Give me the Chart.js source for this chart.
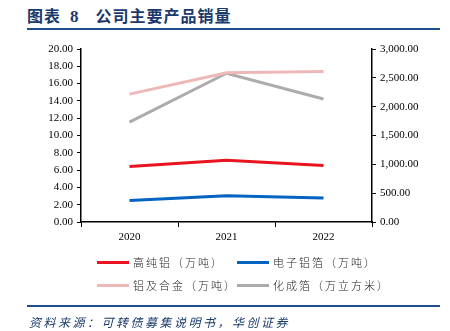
<!DOCTYPE html>
<html>
<head>
<meta charset="utf-8">
<script src="https://cdn.jsdelivr.net/npm/chart.js@4/dist/chart.umd.min.js"></script>
<style>
  html, body { margin: 0; padding: 0; background: #fff; }
  body { width: 450px; height: 331px; position: relative; overflow: hidden; }
  #title { position: absolute; left: 27px; top: 3px; font-family: "Noto Sans CJK SC"; font-weight: 700; font-size: 16px; color: #1b3a6b; letter-spacing: 1px; }
  #title .num { font-family: "Liberation Serif"; font-size: 17px; margin: 0 16px 0 9px; }
  .rule { position: absolute; left: 27px; width: 413px; height: 2px; background: #1f4e8c; }
  #source { position: absolute; left: 29px; top: 313px; font-family: "Noto Sans CJK SC"; font-style: italic; font-size: 12px; color: #1b3a6b; letter-spacing: 2.5px; }
  #wrap { position: absolute; left: 0; top: 0; width: 450px; height: 331px; }
  .leg { position: absolute; font-family: "Noto Sans CJK SC"; font-weight: 300; font-size: 11px; color: #222; letter-spacing: 2px; line-height: 14px; }
  .leg i { position: absolute; left: -36px; top: 6px; width: 32px; height: 3px; }
</style>
</head>
<body>
<div id="title">图表<span class="num">8</span>公司主要产品销量</div>
<div class="rule" style="top:28px"></div>
<div id="wrap"><canvas id="c" width="450" height="331"></canvas></div>
<div id="legend"></div>
<div class="rule" style="top:305px"></div>
<div id="source">资料来源：可转债募集说明书，华创证券</div>
<script>
const years = ['2020', '2021', '2022'];
const seriesNames = ['高纯铝（万吨）', '电子铝箔（万吨）', '铝及合金（万吨）', '化成箔（万立方米）'];
const highPureAl = [6.42, 7.15, 6.54];
const elecFoil = [2.49, 3.04, 2.77];
const alAlloy = [14.78, 17.25, 17.4];
const formedFoil = [1731, 2579, 2134];
const colors = ['#e8141f', '#0563c1', '#efb8b8', '#acacac'];
const legendPos = [[133, 255], [273, 255], [133, 278], [273, 278]];

const serif = 'Liberation Serif';

const ds = [highPureAl, elecFoil, alAlloy, formedFoil].map(function (vals, i) {
  return {
    label: seriesNames[i],
    data: vals,
    borderColor: colors[i],
    backgroundColor: colors[i],
    borderWidth: 3,
    pointRadius: 0,
    tension: 0,
    yAxisID: i === 3 ? 'y1' : 'y'
  };
});

// legend in two rows like the original
const legendEl = document.getElementById('legend');
seriesNames.forEach(function (name, i) {
  const d = document.createElement('div');
  d.className = 'leg';
  d.style.left = legendPos[i][0] + 'px';
  d.style.top = legendPos[i][1] + 'px';
  d.innerHTML = '<i style="background:' + colors[i] + '"></i>' + name;
  legendEl.appendChild(d);
});

const fmt2 = function (v) {
  return v.toLocaleString('en-US', { minimumFractionDigits: 2, maximumFractionDigits: 2 });
};

new Chart(document.getElementById('c'), {
  type: 'line',
  data: { labels: years, datasets: ds },
  options: {
    responsive: false,
    animation: false,
    layout: { padding: { top: 49, left: 0, right: 0, bottom: 79 } },
    plugins: { legend: { display: false }, tooltip: { enabled: false } },
    scales: {
      x: {
        offset: true,
        grid: { offset: true, drawOnChartArea: false, color: '#000', tickLength: 5, tickWidth: 1 },
        border: { color: '#000', width: 1.5 },
        ticks: { color: '#000', font: { family: serif, size: 11 }, padding: 4 },
        afterFit: function (s) { s.height = 30; }
      },
      y: {
        position: 'left',
        min: 0, max: 20,
        ticks: { stepSize: 2, color: '#000', font: { family: serif, size: 11 }, padding: 4, callback: function (v) { return fmt2(v); } },
        grid: { drawOnChartArea: false, color: '#000', tickLength: 4 },
        border: { color: '#000', width: 1.5 },
        afterFit: function (s) { s.width = 81; }
      },
      y1: {
        position: 'right',
        min: 0, max: 3000,
        ticks: { stepSize: 500, color: '#000', font: { family: serif, size: 11 }, padding: 4, callback: function (v) { return fmt2(v); } },
        grid: { drawOnChartArea: false, color: '#000', tickLength: 4 },
        border: { color: '#000', width: 1.5 },
        afterFit: function (s) { s.width = 78; }
      }
    }
  }
});
</script>
</body>
</html>
